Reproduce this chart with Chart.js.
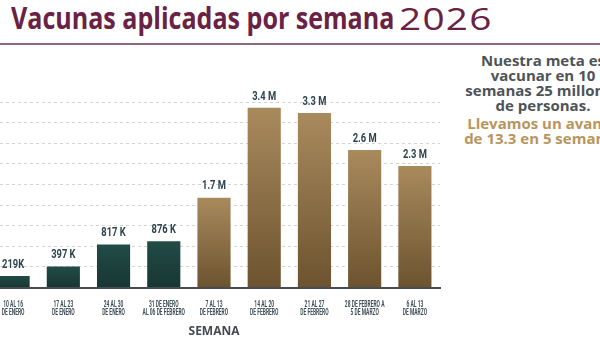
<!DOCTYPE html>
<html>
<head>
<meta charset="utf-8">
<script src="https://cdn.jsdelivr.net/npm/chart.js@4.4.1/dist/chart.umd.min.js"></script>
<style>
  html, body { margin: 0; padding: 0; }
  body { width: 600px; height: 337px; overflow: hidden; position: relative; background: #fff; font-family: "Open Sans", sans-serif; }
  .title { position: absolute; left: 11px; top: -3px; font-size: 30px; font-weight: 700; color: #6a2244; white-space: nowrap; transform: scaleX(0.835); transform-origin: left top; }
  .year { position: absolute; left: 399px; top: -3px; font-size: 31px; font-weight: 400; color: #6a2244; letter-spacing: 1px; transform: scaleX(1.25); transform-origin: left top; }
  .rule { position: absolute; left: 0; top: 43px; width: 600px; height: 2px; background: #8c6a7b; }
  .side { position: absolute; left: 443px; top: 53px; width: 200px; text-align: center; font-weight: 700; font-size: 15px; line-height: 15px; color: #4e5358; white-space: nowrap; }
  .side .gold { color: #b8955d; margin-top: 3px; }
  #wrap { position: absolute; left: -12px; top: 0; width: 612px; height: 339px; }
</style>
</head>
<body>
<div class="title">Vacunas aplicadas por semana</div>
<div class="year">2026</div>
<div class="rule"></div>
<div class="side">
  <div>Nuestra meta es<br>vacunar en 10<br>semanas 25 millones<br>de personas.</div>
  <div class="gold">Llevamos un avance<br>de 13.3 en 5 semanas</div>
</div>
<div id="wrap"><canvas id="chart"></canvas></div>
<script>
// semanas (two lines each)
const weeks = [
  ['10 AL 16', 'DE ENERO'],
  ['17 AL 23', 'DE ENERO'],
  ['24 AL 30', 'DE ENERO'],
  ['31 DE ENERO', 'AL 06 DE FEBRERO'],
  ['7 AL 13', 'DE FEBRERO'],
  ['14 AL 20', 'DE FEBRERO'],
  ['21 AL 27', 'DE FEBRERO'],
  ['28 DE FEBRERO A', '5 DE MARZO'],
  ['6 AL 13', 'DE MARZO']
];
const doses = [219000, 397000, 817000, 876000, 1700000, 3400000, 3300000, 2600000, 2300000];
const doseLabels = ['219K', '397 K', '817 K', '876 K', '1.7 M', '3.4 M', '3.3 M', '2.6 M', '2.3 M'];
const yMax = 3510000;
const yStep = 390000;

function barFill(context) {
  const chart = context.chart;
  if (!chart.chartArea) return '#1e4541';
  const y = chart.scales.y;
  const top = y.getPixelForValue(context.raw);
  const base = y.getPixelForValue(0);
  const g = chart.ctx.createLinearGradient(0, top, 0, base);
  if (context.dataIndex < 4) {
    g.addColorStop(0, '#214c47');
    g.addColorStop(1, '#183633');
  } else {
    g.addColorStop(0, '#a98a5d');
    g.addColorStop(1, '#6c532f');
  }
  return g;
}

// condensed text: squeeze a normal face horizontally
function narrowText(ctx, text, x, y, sx) {
  ctx.save();
  ctx.translate(x, y);
  ctx.scale(sx, 1);
  ctx.fillText(text, 0, 0);
  ctx.restore();
}

const barTexts = {
  id: 'barTexts',
  afterDraw(chart) {
    const ctx = chart.ctx;
    const meta = chart.getDatasetMeta(0);
    const xs = chart.scales.x;
    ctx.save();
    ctx.textAlign = 'center';
    // values above bars
    ctx.font = 'bold 13px Roboto, sans-serif';
    ctx.fillStyle = '#2e434d';
    ctx.textBaseline = 'bottom';
    meta.data.forEach((bar, i) => {
      narrowText(ctx, doseLabels[i], bar.x, bar.y - 5, 0.72);
    });
    // week labels under the axis
    ctx.font = 'bold 8.5px Roboto, sans-serif';
    ctx.fillStyle = '#3d4c56';
    ctx.textBaseline = 'middle';
    weeks.forEach((lines, i) => {
      const x = xs.getPixelForValue(i);
      lines.forEach((t, j) => {
        narrowText(ctx, t, x, xs.top + 17 + j * 8, 0.58);
      });
    });
    ctx.restore();
  }
};

new Chart(document.getElementById('chart'), {
  type: 'bar',
  data: {
    labels: weeks,
    datasets: [{
      data: doses,
      backgroundColor: barFill,
      borderWidth: 0,
      categoryPercentage: 1,
      barPercentage: 0.66
    }]
  },
  options: {
    responsive: true,
    maintainAspectRatio: false,
    animation: false,
    layout: { padding: { top: 102, right: 160, left: 0, bottom: 0 } },
    plugins: {
      legend: { display: false },
      tooltip: { enabled: false }
    },
    scales: {
      x: {
        grid: { display: false, drawTicks: false },
        border: { display: true, color: '#474c52', width: 2 },
        ticks: { display: false },
        title: {
          display: true,
          text: 'SEMANA',
          color: '#444a50',
          font: { family: '"Open Sans", sans-serif', size: 12, weight: 'bold' },
          padding: { top: 37, bottom: 0 }
        }
      },
      y: {
        min: 0,
        max: yMax,
        ticks: { display: false, stepSize: yStep },
        border: { display: false, dash: [3, 3] },
        grid: { color: '#d3d3d3', lineWidth: 1, drawTicks: false, tickLength: 0 }
      }
    }
  },
  plugins: [barTexts]
});
</script>
</body>
</html>
